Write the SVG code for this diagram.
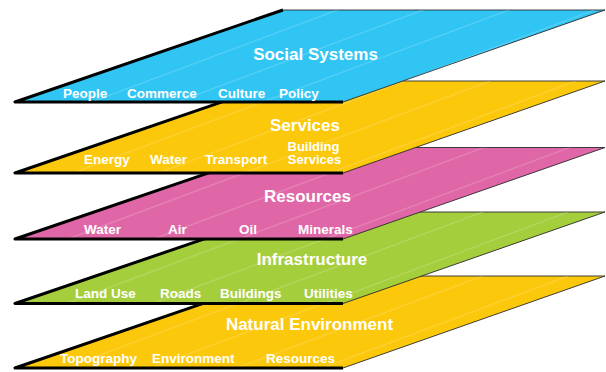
<svg xmlns="http://www.w3.org/2000/svg" width="606" height="372" viewBox="0 0 606 372">
<defs>
<pattern id="tex" patternUnits="userSpaceOnUse" width="606" height="30" patternTransform="rotate(-20.5)">
<line x1="-10" y1="7.6" x2="620" y2="7.6" stroke="#ffffff" stroke-opacity="0.32" stroke-width="0.7"/>
</pattern>
</defs>
<style>
.edge{stroke:#2a2a2a;stroke-width:0.9;stroke-linejoin:miter}
.tex{fill:url(#tex);stroke:none}
.shadow{fill:none;stroke:#000;stroke-width:3;stroke-linejoin:round;stroke-linecap:butt}
.title{font-family:"Liberation Sans",Arial,sans-serif;font-weight:bold;font-size:17px;fill:#fff;text-anchor:middle}
.lbl{font-family:"Liberation Sans",Arial,sans-serif;font-weight:bold;font-size:13.5px;fill:#fff}
.lbl2{font-family:"Liberation Sans",Arial,sans-serif;font-weight:bold;font-size:13px;fill:#fff;text-anchor:middle}
</style>

<g id="layer-natural-environment">
<polygon class="edge" fill="#FCC80B" points="283,276 605,276 343,368 15,368"/>
<polygon class="tex" points="283,276 605,276 343,368 15,368"/>
<polyline class="shadow" points="283,276 15,368 343,368"/>
<text class="title" x="309.5" y="330">Natural Environment</text>
<text class="lbl" x="60" y="363">Topography</text>
<text class="lbl" x="152" y="363">Environment</text>
<text class="lbl" x="266" y="363">Resources</text>
</g>

<g id="layer-infrastructure">
<polygon class="edge" fill="#A5CE3D" points="283,212 605,212 343,303.5 15,303.5"/>
<polygon class="tex" points="283,212 605,212 343,303.5 15,303.5"/>
<polyline class="shadow" points="283,212 15,303.5 343,303.5"/>
<text class="title" x="312" y="265">Infrastructure</text>
<text class="lbl" x="75" y="297.5">Land Use</text>
<text class="lbl" x="160" y="297.5">Roads</text>
<text class="lbl" x="220" y="297.5">Buildings</text>
<text class="lbl" x="304" y="297.5">Utilities</text>
</g>

<g id="layer-resources">
<polygon class="edge" fill="#E067A7" points="283,147.5 605,147.5 343,239 15,239"/>
<polygon class="tex" points="283,147.5 605,147.5 343,239 15,239"/>
<polyline class="shadow" points="283,147.5 15,239 343,239"/>
<text class="title" x="307.5" y="202">Resources</text>
<text class="lbl" x="84" y="233.5">Water</text>
<text class="lbl" x="168" y="233.5">Air</text>
<text class="lbl" x="239" y="233.5">Oil</text>
<text class="lbl" x="298" y="233.5">Minerals</text>
</g>

<g id="layer-services">
<polygon class="edge" fill="#FCC80B" points="283,81 605,81 343,173 15,173"/>
<polygon class="tex" points="283,81 605,81 343,173 15,173"/>
<polyline class="shadow" points="283,81 15,173 343,173"/>
<text class="title" x="305" y="131">Services</text>
<text class="lbl" x="84" y="164">Energy</text>
<text class="lbl" x="150" y="164">Water</text>
<text class="lbl" x="205" y="164">Transport</text>
<text class="lbl2"><tspan x="313.5" y="150.5">Building</tspan><tspan x="314.5" y="164">Services</tspan></text>
</g>

<g id="layer-social-systems">
<polygon class="edge" fill="#31C5F4" points="283,10 605,10 343,102 15,102"/>
<polygon class="tex" points="283,10 605,10 343,102 15,102"/>
<polyline class="shadow" points="283,10 15,102 343,102"/>
<text class="title" x="315.5" y="60">Social Systems</text>
<text class="lbl" x="63" y="98">People</text>
<text class="lbl" x="127" y="98">Commerce</text>
<text class="lbl" x="218" y="98">Culture</text>
<text class="lbl" x="279" y="98">Policy</text>
</g>
</svg>
